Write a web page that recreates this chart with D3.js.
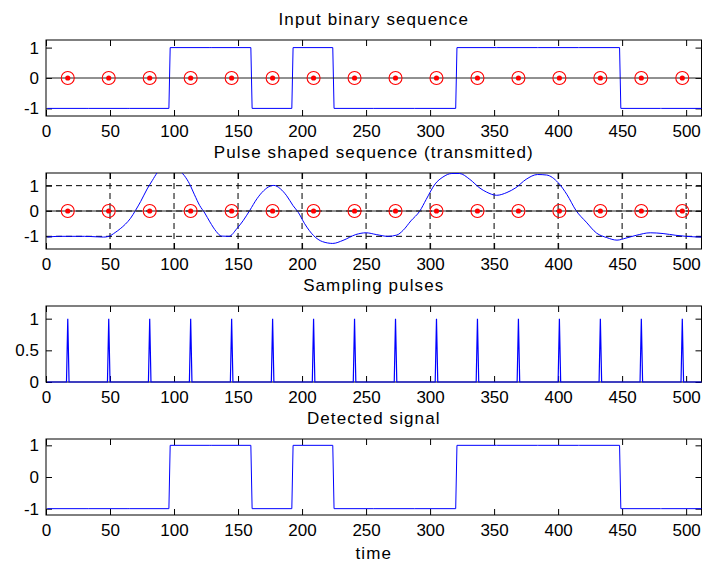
<!DOCTYPE html>
<html>
<head>
<meta charset="utf-8">
<script src="https://cdn.jsdelivr.net/npm/d3@7"></script>
<style>
  html, body { margin: 0; padding: 0; background: #fff; }
  svg { display: block; }
</style>
</head>
<body>
<svg id="chart" width="704" height="563"></svg>
<script>
// ---- data ----
// transmitted bits (one per 32-sample symbol)
const inputBits = [-1, -1, -1, 1, 1, -1, 1, -1, -1, -1, 1, 1, 1, 1, -1, -1];
// bits recovered by the receiver
const detectedBits = [-1, -1, -1, 1, 1, -1, 1, -1, -1, -1, 1, 1, 1, 1, -1, -1];
const samplesPerBit = 32;
const totalSamples = 512;
// instants at which the receiver samples the waveform
const sampleTimes = [17, 49, 81, 113, 145, 177, 209, 241, 273, 305, 337, 369, 401, 433, 465, 497];
// pulse shaped (transmitted) waveform
const shapedTime = [1, 10, 20, 30, 40, 45, 49, 54, 58, 62, 66, 70, 74, 79, 83, 87, 91, 96, 101, 105,
  108, 112, 116, 120, 124, 128, 133, 137, 143, 149, 154, 159, 165, 170, 175, 178, 183, 188, 193, 197,
  202, 209, 216, 224, 232, 242, 250, 258, 267, 274, 279, 285, 292, 297, 304, 310, 317, 323, 331, 339,
  344, 352, 360, 367, 375, 384, 391, 400, 407, 414, 422, 430, 438, 446, 453, 461, 472, 482, 492, 500, 512];
const shapedValue = [-1.03, -1.0, -1.0, -1.0, -1.02, -1.03, -1.0, -0.85, -0.70, -0.52, -0.29, 0.03, 0.38, 0.87, 1.2, 1.52, 1.72, 1.82, 1.75, 1.56,
  1.4, 1.08, 0.64, 0.22, -0.08, -0.43, -0.81, -0.99, -1.0, -0.70, -0.38, 0.01, 0.5, 0.8, 0.98, 1.01, 0.88, 0.6, 0.21, -0.05,
  -0.5, -0.97, -1.21, -1.28, -1.16, -0.93, -0.86, -0.93, -1.0, -0.95, -0.76, -0.39, 0.0, 0.46, 1.07, 1.34, 1.48, 1.48, 1.25, 0.9,
  0.75, 0.62, 0.73, 0.92, 1.25, 1.44, 1.42, 1.12, 0.64, 0.02, -0.44, -0.87, -1.05, -1.15, -1.07, -0.96, -0.86, -0.89, -0.96, -1.0, -1.03];

const xTicks = [0, 50, 100, 150, 200, 250, 300, 350, 400, 450, 500];
const bipolarTicks = [-1, 0, 1];
const pulseTicks = [0, 0.5, 1];
const titles = ["Input binary sequence", "Pulse shaped sequence (transmitted)", "Sampling pulses", "Detected signal"];
const xLabel = "time";

// ---- helpers building plotted series from the data above ----
function stepSeries(bits) {
  const pts = [];
  bits.forEach((b, k) => {
    pts.push([k * samplesPerBit + 1, b]);
    pts.push([(k + 1) * samplesPerBit, b]);
  });
  return pts;
}
function pulseSeries(times) {
  const pts = [[1, 0]];
  times.forEach(t => { pts.push([t - 1, 0], [t, 1], [t + 1, 0]); });
  pts.push([totalSamples, 0]);
  return pts;
}

// ---- layout ----
const svg = d3.select("#chart");
const FONT = "'Liberation Sans', Arial, Helvetica, sans-serif";
const left = 46, right = 701.5, panelH = 76;
const panelTops = [40, 173, 306, 439];
const x = d3.scaleLinear().domain([0, totalSamples]).range([left, right]);
const tickLen = 6;

function makePanel(i, yDomain, yTicks, yFormat) {
  const top = panelTops[i], bottom = top + panelH;
  const y = d3.scaleLinear().domain(yDomain).range([bottom, top]);
  const g = svg.append("g");

  // title
  g.append("text")
    .attr("x", (left + right) / 2).attr("y", top - 15.5)
    .attr("text-anchor", "middle")
    .style("font-family", FONT).style("font-size", "17px").style("letter-spacing", "1.1px")
    .text(titles[i]);

  const axes = g.append("g");
  const style = a => {
    a.selectAll("text").style("font-family", FONT).style("font-size", "17px").attr("fill", "#000");
    a.selectAll("line").attr("stroke", "#000");
    a.select(".domain").remove();
  };
  axes.append("g").attr("transform", `translate(0,${bottom})`)
    .call(d3.axisBottom(x).tickValues(xTicks).tickSize(-tickLen).tickPadding(9).tickFormat(d3.format("d")))
    .call(style);
  axes.append("g").attr("transform", `translate(0,${top})`)
    .call(d3.axisTop(x).tickValues(xTicks).tickSize(-tickLen).tickFormat(""))
    .call(style);
  axes.append("g").attr("transform", `translate(${left},0)`)
    .call(d3.axisLeft(y).tickValues(yTicks).tickSize(-tickLen).tickPadding(7).tickFormat(yFormat))
    .call(style);
  axes.append("g").attr("transform", `translate(${right},0)`)
    .call(d3.axisRight(y).tickValues(yTicks).tickSize(-tickLen).tickFormat(""))
    .call(style);
  axes.append("rect")
    .attr("x", left).attr("y", top).attr("width", right - left).attr("height", panelH)
    .attr("fill", "none").attr("stroke", "#000").attr("stroke-width", 1);

  return { g, y, top, bottom };
}

const lineGen = (y) => d3.line().x(d => x(d[0])).y(d => y(d[1]));
const fmtSigned = d => (d < 0 ? "-" : "") + Math.abs(d);

function drawSamplingMarks(p) {
  p.g.append("line")
    .attr("x1", x(0)).attr("x2", x(totalSamples))
    .attr("y1", p.y(0)).attr("y2", p.y(0))
    .attr("stroke", "#222").attr("stroke-width", 1);
  const m = p.g.append("g").selectAll("g").data(sampleTimes).join("g")
    .attr("transform", d => `translate(${x(d)},${p.y(0)})`);
  m.append("circle").attr("r", 6.5).attr("fill", "none").attr("stroke", "#ff0000").attr("stroke-width", 1.1);
  m.append("circle").attr("r", 2.6).attr("fill", "#ff0000");
}

// Panel 1: input bits
{
  const p = makePanel(0, [-1.25, 1.25], bipolarTicks, fmtSigned);
  p.g.append("path").datum(stepSeries(inputBits))
    .attr("d", lineGen(p.y)).attr("fill", "none").attr("stroke", "#0000ff").attr("stroke-width", 1);
  drawSamplingMarks(p);
}

// Panel 2: pulse shaped waveform with grid
{
  const p = makePanel(1, [-1.5, 1.5], bipolarTicks, fmtSigned);
  const grid = p.g.append("g").attr("stroke", "#000").attr("stroke-width", 1).attr("stroke-dasharray", "6,4");
  grid.selectAll("line.v").data(xTicks.filter(t => t > 0)).join("line")
    .attr("x1", d => x(d)).attr("x2", d => x(d)).attr("y1", p.top).attr("y2", p.bottom);
  grid.selectAll("line.h").data(bipolarTicks).join("line")
    .attr("x1", left).attr("x2", right).attr("y1", d => p.y(d)).attr("y2", d => p.y(d));
  svg.append("clipPath").attr("id", "clip2")
    .append("rect").attr("x", left).attr("y", p.top).attr("width", right - left).attr("height", panelH);
  const shaped = shapedTime.map((t, k) => [t, shapedValue[k]]);
  p.g.append("path").datum(shaped)
    .attr("clip-path", "url(#clip2)")
    .attr("d", lineGen(p.y).curve(d3.curveMonotoneX))
    .attr("fill", "none").attr("stroke", "#0000ff").attr("stroke-width", 1);
  drawSamplingMarks(p);
}

// Panel 3: sampling pulse train
{
  const p = makePanel(2, [0, 1.2], pulseTicks, d => String(d));
  p.g.append("path").datum(pulseSeries(sampleTimes))
    .attr("d", lineGen(p.y)).attr("fill", "none").attr("stroke", "#0000ff").attr("stroke-width", 1.2);
}

// Panel 4: detected bits
{
  const p = makePanel(3, [-1.2, 1.2], bipolarTicks, fmtSigned);
  p.g.append("path").datum(stepSeries(detectedBits))
    .attr("d", lineGen(p.y)).attr("fill", "none").attr("stroke", "#0000ff").attr("stroke-width", 1);
  svg.append("text")
    .attr("x", (left + right) / 2).attr("y", 559)
    .attr("text-anchor", "middle")
    .style("font-family", FONT).style("font-size", "17px").style("letter-spacing", "1.1px")
    .text(xLabel);
}
</script>
</body>
</html>
